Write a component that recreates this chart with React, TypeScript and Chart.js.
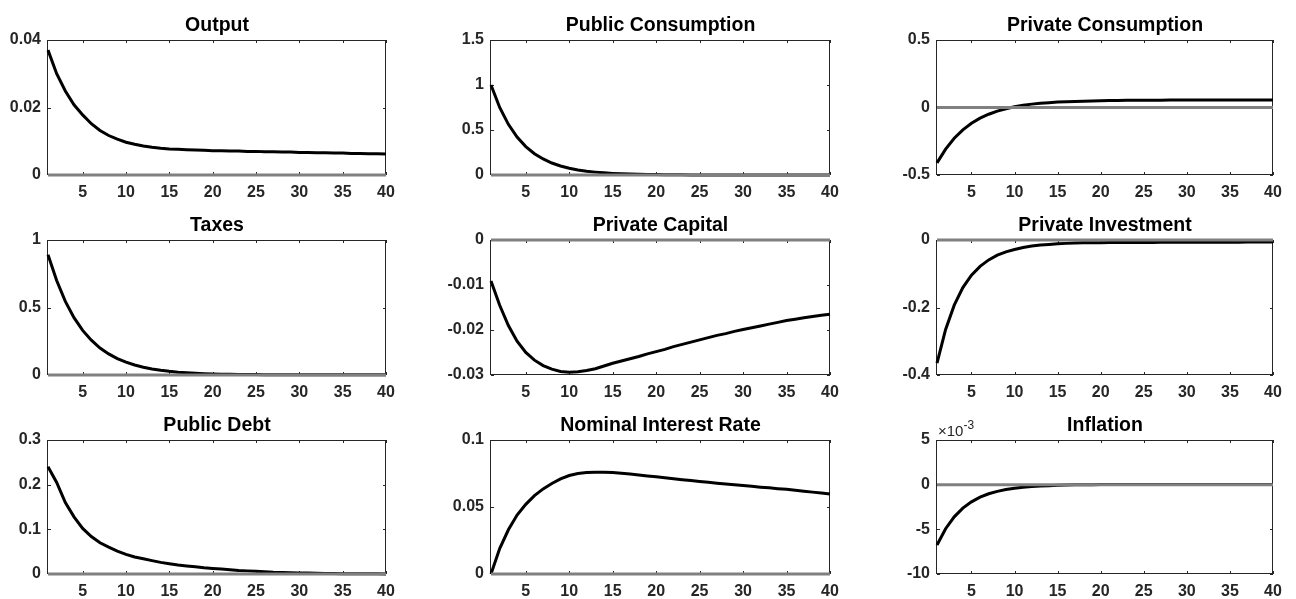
import React, { useEffect, useRef } from "react";
import { Chart, registerables } from "chart.js";

Chart.register(...registerables);

// ---------------- data ----------------
const periods = [
  1, 2, 3, 4, 5, 6, 7, 8, 9, 10, 11, 12, 13, 14, 15, 16, 17, 18, 19, 20,
  21, 22, 23, 24, 25, 26, 27, 28, 29, 30, 31, 32, 33, 34, 35, 36, 37, 38, 39, 40,
];
const xTickValues = [5, 10, 15, 20, 25, 30, 35, 40];
const zeroLine = [0, 0];

const outputIrf = [
  0.037, 0.03, 0.0249, 0.0208, 0.0178, 0.0152, 0.0132, 0.0117, 0.0106, 0.0097,
  0.0091, 0.0086, 0.0082, 0.0079, 0.0077, 0.0076, 0.0075, 0.0074, 0.0073, 0.0072,
  0.0072, 0.0071, 0.0071, 0.007, 0.007, 0.0069, 0.0069, 0.0068, 0.0068, 0.0067,
  0.0067, 0.0066, 0.0066, 0.0065, 0.0065, 0.0064, 0.0064, 0.0063, 0.0063, 0.0062,
];
const publicConsumptionIrf = [
  1.0, 0.75, 0.563, 0.422, 0.316, 0.237, 0.178, 0.133, 0.1, 0.075,
  0.056, 0.042, 0.032, 0.024, 0.018, 0.013, 0.01, 0.0075, 0.0056, 0.0042,
  0.0032, 0.0024, 0.0018, 0.0013, 0.001, 0.0008, 0.0006, 0.0004, 0.0003, 0.0002,
  0.0002, 0.0001, 0.0001, 0.0001, 0, 0, 0, 0, 0, 0,
];
const privateConsumptionIrf = [
  -0.41, -0.308, -0.228, -0.166, -0.117, -0.079, -0.05, -0.027, -0.009, 0.005,
  0.016, 0.025, 0.031, 0.036, 0.04, 0.043, 0.045, 0.047, 0.049, 0.05,
  0.051, 0.052, 0.053, 0.053, 0.054, 0.054, 0.054, 0.055, 0.055, 0.055,
  0.055, 0.055, 0.055, 0.056, 0.056, 0.056, 0.056, 0.056, 0.056, 0.056,
];
const taxesIrf = [
  0.89, 0.7, 0.545, 0.425, 0.33, 0.258, 0.2, 0.156, 0.122, 0.095,
  0.074, 0.058, 0.045, 0.035, 0.027, 0.021, 0.017, 0.013, 0.01, 0.008,
  0.006, 0.005, 0.004, 0.003, 0.003, 0.002, 0.002, 0.002, 0.002, 0.002,
  0.002, 0.002, 0.002, 0.002, 0.002, 0.001, 0.001, 0.001, 0.001, 0.001,
];
const privateCapitalIrf = [
  -0.0091, -0.0145, -0.019, -0.0225, -0.025, -0.0267, -0.0279, -0.0287, -0.0292, -0.0294,
  -0.0293, -0.029, -0.0286, -0.028, -0.0274, -0.0269, -0.0264, -0.0259, -0.0253, -0.0248,
  -0.0243, -0.0237, -0.0232, -0.0227, -0.0222, -0.0217, -0.0212, -0.0208, -0.0203, -0.0199,
  -0.0195, -0.0191, -0.0187, -0.0183, -0.0179, -0.0176, -0.0173, -0.017, -0.0167, -0.0165,
];
const privateInvestmentIrf = [
  -0.365, -0.265, -0.193, -0.141, -0.104, -0.078, -0.059, -0.045, -0.035, -0.028,
  -0.022, -0.018, -0.015, -0.013, -0.011, -0.01, -0.009, -0.0085, -0.008, -0.0078,
  -0.0076, -0.0075, -0.0074, -0.0073, -0.0072, -0.0071, -0.007, -0.0069, -0.0068, -0.0067,
  -0.0066, -0.0065, -0.0064, -0.0064, -0.0063, -0.0063, -0.0062, -0.0062, -0.0061, -0.0061,
];
const publicDebtIrf = [
  0.24, 0.205, 0.16, 0.128, 0.102, 0.084, 0.07, 0.06, 0.051, 0.044,
  0.038, 0.034, 0.03, 0.026, 0.023, 0.02, 0.018, 0.016, 0.014, 0.0125,
  0.011, 0.0095, 0.008, 0.007, 0.006, 0.005, 0.004, 0.0035, 0.003, 0.0025,
  0.002, 0.0016, 0.0013, 0.001, 0.0008, 0.0006, 0.0005, 0.0004, 0.0003, 0.0002,
];
const nominalRateIrf = [
  0, 0.019, 0.033, 0.044, 0.052, 0.0585, 0.0635, 0.0675, 0.071, 0.0735,
  0.075, 0.0757, 0.076, 0.076, 0.0757, 0.0752, 0.0746, 0.0739, 0.0732, 0.0725,
  0.0718, 0.0711, 0.0704, 0.0697, 0.069, 0.0684, 0.0678, 0.0672, 0.0666, 0.066,
  0.0654, 0.0648, 0.0643, 0.0637, 0.0632, 0.0625, 0.0618, 0.0611, 0.0604, 0.0597,
];
const inflationIrf = [
  -0.00675, -0.00493, -0.0036, -0.00263, -0.00192, -0.0014, -0.00102, -0.00075, -0.00055, -0.0004,
  -0.00029, -0.00021, -0.00015, -0.00011, -0.00007, -0.00004, -0.00002, -0.00001, 0, 0.00001,
  0.00002, 0.00002, 0.00003, 0.00003, 0.00003, 0.00003, 0.00003, 0.00003, 0.00003, 0.00003,
  0.00003, 0.00002, 0.00002, 0.00002, 0.00002, 0.00002, 0.00002, 0.00002, 0.00002, 0.00002,
];

const titles = [
  "Output", "Public Consumption", "Private Consumption",
  "Taxes", "Private Capital", "Private Investment",
  "Public Debt", "Nominal Interest Rate", "Inflation",
];
const seriesList = [
  outputIrf, publicConsumptionIrf, privateConsumptionIrf,
  taxesIrf, privateCapitalIrf, privateInvestmentIrf,
  publicDebtIrf, nominalRateIrf, inflationIrf,
];
const yTickValues = [
  [0, 0.02, 0.04], [0, 0.5, 1, 1.5], [-0.5, 0, 0.5],
  [0, 0.5, 1], [-0.03, -0.02, -0.01, 0], [-0.4, -0.2, 0],
  [0, 0.1, 0.2, 0.3], [0, 0.05, 0.1], [-0.01, -0.005, 0, 0.005],
];
const yTickLabels = [
  ["0", "0.02", "0.04"], ["0", "0.5", "1", "1.5"], ["-0.5", "0", "0.5"],
  ["0", "0.5", "1"], ["-0.03", "-0.02", "-0.01", "0"], ["-0.4", "-0.2", "0"],
  ["0", "0.1", "0.2", "0.3"], ["0", "0.05", "0.1"], ["-10", "-5", "0", "5"],
];
const exponentLabels = ["", "", "", "", "", "", "", "", "-3"];

// ---------------- layout (pixels) ----------------
const COLS = [
  { left: 0, width: 432, plotLeft: 48, plotRight: 386 },
  { left: 432, width: 432, plotLeft: 491, plotRight: 830 },
  { left: 864, width: 432, plotLeft: 937, plotRight: 1273 },
];
const ROWS = [
  { top: 0, height: 200, plotTop: 40, plotBottom: 175 },
  { top: 200, height: 200, plotTop: 240, plotBottom: 375 },
  { top: 400, height: 199, plotTop: 440, plotBottom: 574 },
];

const FONT = '"Liberation Sans", Arial, Helvetica, sans-serif';
const AXIS_COLOR = "#262626";
const ZERO_COLOR = "#808080";

function Panel({ idx }: { idx: number }) {
  const ref = useRef<HTMLCanvasElement | null>(null);
  const col = COLS[idx % 3];
  const row = ROWS[Math.floor(idx / 3)];

  useEffect(() => {
    const canvas = ref.current;
    if (!canvas) return;
    const yTicks = yTickValues[idx];
    const yLabels = yTickLabels[idx];
    const values = seriesList[idx];
    const title = titles[idx];
    const expo = exponentLabels[idx];

    const deco = {
      id: "irfDeco" + idx,
      beforeDatasetsDraw(chart: any) {
        const { ctx, chartArea } = chart;
        const { left, right, top, bottom } = chartArea;
        ctx.save();
        ctx.strokeStyle = AXIS_COLOR;
        ctx.lineWidth = 1;
        ctx.strokeRect(Math.round(left) - 0.5, Math.round(top) + 0.5, Math.round(right - left), Math.round(bottom - top) - 1);
        const xs = chart.scales.x;
        const ys = chart.scales.y;
        const tl = 3;
        ctx.beginPath();
        for (const t of xs.ticks) {
          const px = Math.round(xs.getPixelForValue(t.value)) + 0.5;
          ctx.moveTo(px, bottom);
          ctx.lineTo(px, bottom - tl);
          ctx.moveTo(px, top);
          ctx.lineTo(px, top + tl);
        }
        for (const t of ys.ticks) {
          const py = Math.round(ys.getPixelForValue(t.value)) + 0.5;
          ctx.moveTo(left, py);
          ctx.lineTo(left + tl, py);
          ctx.moveTo(right, py);
          ctx.lineTo(right - tl, py);
        }
        ctx.stroke();
        ctx.restore();
      },
      afterDraw(chart: any) {
        const { ctx, chartArea } = chart;
        ctx.save();
        ctx.fillStyle = "#000";
        ctx.font = "bold 19.5px " + FONT;
        ctx.textAlign = "center";
        ctx.textBaseline = "alphabetic";
        ctx.fillText(title, (chartArea.left + chartArea.right) / 2, chartArea.top - 9);
        if (expo) {
          ctx.fillStyle = AXIS_COLOR;
          ctx.textAlign = "left";
          ctx.font = "15px " + FONT;
          const base = "\u00d710";
          ctx.fillText(base, chartArea.left + 1, chartArea.top - 4);
          const w = ctx.measureText(base).width;
          ctx.font = "12px " + FONT;
          ctx.fillText(expo, chartArea.left + 1 + w, chartArea.top - 11);
        }
        ctx.restore();
      },
    };

    const chart = new Chart(canvas, {
      type: "line",
      data: {
        datasets: [
          {
            data: zeroLine.map((v, i) => ({ x: i === 0 ? periods[0] : periods[periods.length - 1], y: v })),
            borderColor: ZERO_COLOR,
            borderWidth: 3,
            pointRadius: 0,
            tension: 0,
            clip: false,
          },
          {
            data: values.map((v, i) => ({ x: periods[i], y: v })),
            borderColor: "#000000",
            borderWidth: 3,
            pointRadius: 0,
            tension: 0,
            clip: false,
          },
        ],
      },
      options: {
        responsive: false,
        animation: false,
        devicePixelRatio: 1,
        layout: {
          padding: {
            left: 0,
            top: row.plotTop - row.top,
            right: col.left + col.width - col.plotRight,
            bottom: 0,
          },
        },
        plugins: {
          legend: { display: false },
          tooltip: { enabled: false },
          title: { display: false },
        },
        scales: {
          x: {
            type: "linear",
            min: 1,
            max: 40,
            afterBuildTicks: (s: any) => {
              s.ticks = xTickValues.map((v) => ({ value: v }));
            },
            afterFit: (s: any) => {
              s.height = row.top + row.height - row.plotBottom;
            },
            grid: { display: false, drawTicks: false },
            border: { display: false },
            ticks: {
              color: AXIS_COLOR,
              font: { family: FONT, size: 16, weight: "bold" },
              padding: 8,
              maxRotation: 0,
              autoSkip: false,
            },
          },
          y: {
            type: "linear",
            min: yTicks[0],
            max: yTicks[yTicks.length - 1],
            afterBuildTicks: (s: any) => {
              s.ticks = yTicks.map((v) => ({ value: v }));
            },
            afterFit: (s: any) => {
              s.width = col.plotLeft - col.left;
            },
            grid: { display: false, drawTicks: false },
            border: { display: false },
            ticks: {
              color: AXIS_COLOR,
              font: { family: FONT, size: 16, weight: "bold" },
              padding: 7,
              autoSkip: false,
              callback: (_v: any, i: number) => yLabels[i],
            },
          },
        },
      } as any,
      plugins: [deco as any],
    });
    return () => chart.destroy();
  }, [idx]);

  return (
    <canvas
      ref={ref}
      width={col.width}
      height={row.height}
      style={{ position: "absolute", left: col.left, top: row.top, width: col.width, height: row.height }}
    />
  );
}

export default function App() {
  useEffect(() => {
    document.body.style.margin = "0";
    document.body.style.background = "#ffffff";
  }, []);
  return (
    <div style={{ position: "relative", width: 1296, height: 599, background: "#ffffff", overflow: "hidden" }}>
      {titles.map((_, i) => (
        <Panel key={i} idx={i} />
      ))}
    </div>
  );
}
